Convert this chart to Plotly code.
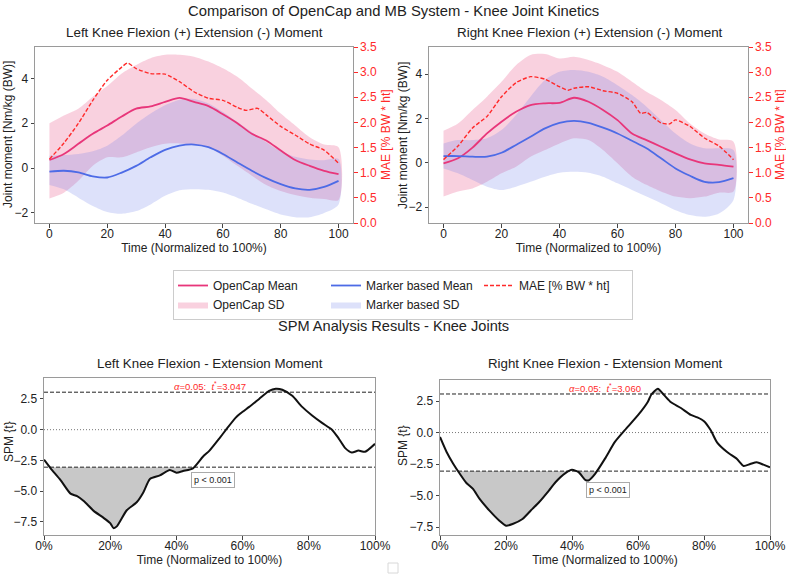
import plotly.graph_objects as go

W, H = 786, 576

# ---------------- data ----------------
x_pct = [0, 5, 10, 15, 20, 25, 30, 35, 40, 45, 50, 55, 60, 65, 70, 75, 80, 85, 90, 95, 100]

# Left knee
L_oc_mean = [0.36, 0.63, 1.08, 1.53, 1.90, 2.30, 2.65, 2.75, 2.95, 3.13, 2.95, 2.76, 2.40, 2.00, 1.53, 1.23, 0.78, 0.36, 0.10, -0.12, -0.27]
L_oc_up = [2.0, 2.35, 2.65, 3.18, 3.66, 4.22, 4.6, 4.9, 5.05, 5.05, 4.97, 4.75, 4.45, 4.07, 3.55, 3.03, 2.43, 1.9, 1.38, 1.05, 0.93]
L_oc_lo = [-1.36, -1.1, -0.57, 0.1, 0.48, 0.48, 0.7, 0.93, 1.08, 1.1, 1.05, 0.93, 0.55, 0.1, -0.34, -0.75, -1.02, -1.2, -1.32, -1.38, -1.42]
L_mb_mean = [-0.16, -0.12, -0.19, -0.37, -0.42, -0.2, 0.1, 0.48, 0.81, 1.0, 1.05, 0.93, 0.63, 0.25, -0.12, -0.45, -0.72, -0.91, -0.97, -0.84, -0.57]
L_mb_up = [0.55, 0.58, 0.63, 0.75, 1.0, 1.45, 1.98, 2.43, 2.8, 3.05, 3.08, 2.88, 2.5, 2.05, 1.6, 1.15, 0.75, 0.5, 0.38, 0.35, 0.4]
L_mb_lo = [-0.76, -0.95, -1.32, -1.69, -1.96, -2.04, -1.92, -1.62, -1.24, -0.99, -0.94, -0.97, -1.09, -1.32, -1.59, -1.84, -2.07, -2.19, -2.19, -2.0, -1.62]
L_mae_x = [0, 5, 10, 15, 20, 25, 27, 30, 35, 40, 45, 50, 55, 60, 65, 68, 72, 75, 80, 85, 90, 95, 100]
L_mae = [1.27, 1.59, 1.98, 2.44, 2.84, 3.1, 3.18, 3.07, 2.97, 2.96, 2.81, 2.61, 2.48, 2.44, 2.3, 2.24, 2.28, 2.15, 1.92, 1.75, 1.57, 1.45, 1.19]

# Right knee
R_oc_mean = [-0.03, 0.2, 0.68, 1.32, 1.85, 2.3, 2.6, 2.68, 2.7, 2.93, 2.75, 2.38, 1.92, 1.32, 1.02, 0.72, 0.42, 0.15, -0.03, -0.1, -0.18]
R_oc_up = [1.44, 1.77, 2.38, 2.98, 3.65, 4.4, 4.86, 4.9, 4.7, 4.78, 4.63, 4.4, 4.1, 3.65, 3.2, 2.83, 2.38, 1.77, 1.32, 1.05, 0.95]
R_oc_lo = [-1.53, -1.3, -1.16, -0.86, -0.48, -0.18, 0.27, 0.57, 0.87, 1.1, 1.02, 0.57, -0.03, -0.63, -1.0, -1.3, -1.53, -1.6, -1.53, -1.35, -1.3]
R_mb_mean = [0.3, 0.3, 0.27, 0.27, 0.45, 0.8, 1.17, 1.55, 1.8, 1.89, 1.8, 1.58, 1.32, 0.99, 0.65, 0.2, -0.26, -0.59, -0.86, -0.88, -0.7]
R_mb_up = [0.87, 1.02, 1.02, 1.1, 1.47, 2.15, 2.98, 3.73, 4.1, 4.18, 4.1, 3.88, 3.5, 3.05, 2.53, 1.92, 1.32, 0.87, 0.65, 0.65, 0.57]
R_mb_lo = [-0.26, -0.48, -0.78, -1.08, -1.23, -1.08, -0.86, -0.63, -0.45, -0.41, -0.45, -0.63, -0.93, -1.23, -1.53, -1.83, -2.14, -2.36, -2.44, -2.29, -1.68]
R_mae_x = [0, 5, 10, 15, 20, 25, 30, 35, 40, 43, 45, 50, 55, 60, 65, 68, 70, 75, 78, 80, 85, 90, 95, 100]
R_mae = [1.26, 1.53, 1.89, 2.12, 2.51, 2.79, 2.91, 2.86, 2.71, 2.64, 2.68, 2.71, 2.63, 2.58, 2.41, 2.18, 2.2, 1.99, 1.97, 2.05, 1.92, 1.69, 1.53, 1.26]

# SPM {t}
spm_L_x = [0, 2, 5, 8, 10, 12, 15, 18, 20, 21, 22, 25, 28, 30, 32, 35, 38, 40, 42, 45, 48, 50, 53, 55, 58, 60, 62, 65, 68, 70, 72, 75, 78, 81, 84, 87, 89, 91, 93, 95, 97, 100]
spm_L_t = [-2.44, -3.14, -4.1, -5.2, -5.4, -5.8, -6.6, -7.17, -7.6, -8.0, -7.86, -6.55, -5.9, -5.1, -4.0, -3.72, -3.28, -3.5, -3.36, -3.14, -2.2, -1.7, -0.7, 0.0, 1.0, 1.45, 1.85, 2.5, 3.15, 3.33, 3.25, 2.75, 1.85, 1.15, 0.55, 0.0, -0.7, -1.5, -1.85, -1.7, -1.8, -1.15]
spm_L_thr = 3.047
spm_R_x = [0, 2, 4, 6, 8, 10, 12, 15, 18, 20, 22, 25, 28, 30, 33, 35, 38, 40, 42, 44, 45, 47, 50, 53, 56, 60, 63, 64, 66, 68, 70, 73, 76, 78, 80, 82, 84, 87, 90, 92, 94, 96, 98, 100]
spm_R_t = [-0.35, -1.54, -2.47, -3.27, -4.0, -4.47, -5.27, -6.2, -7.0, -7.39, -7.26, -6.86, -6.06, -5.53, -4.6, -3.94, -3.22, -2.95, -3.14, -3.75, -3.8, -3.27, -2.07, -0.74, 0.19, 1.38, 2.45, 3.0, 3.48, 2.95, 2.4, 1.95, 1.4, 1.2, 0.9, 0.2, -0.8, -1.55, -2.1, -2.65, -2.5, -2.35, -2.55, -2.75]
spm_R_thr = 3.060

pct_ticks = [0, 20, 40, 60, 80, 100]
pct_labels = ["0%", "20%", "40%", "60%", "80%", "100%"]
legend_names = ["OpenCap Mean", "OpenCap SD", "Marker based Mean", "Marker based SD", "MAE [% BW * ht]"]

# ---------------- styles ----------------
FONT = "Liberation Sans, Arial, sans-serif"
PINK = "#e8367a"
BLUE = "#4d6be6"
PINK_FILL = "rgba(235,90,140,0.28)"
BLUE_FILL = "rgba(100,120,230,0.22)"
RED = "#ff2a2a"
FRAME = "#9a9a9a"


def px(x):
    return x / W


def py(y):
    return 1 - y / H


fig = go.Figure()


def band(xs, up, lo, fill, name, group, rank, show, xa, ya):
    fig.add_trace(go.Scatter(
        x=list(xs) + list(xs)[::-1], y=list(up) + list(lo)[::-1],
        fill="toself", fillcolor=fill, line=dict(width=0, shape="spline", smoothing=0.8),
        mode="lines", name=name, legendgroup=group, legendrank=rank, showlegend=show,
        hoverinfo="skip", xaxis=xa, yaxis=ya))


def mean_line(xs, ys, color, name, group, rank, show, xa, ya):
    fig.add_trace(go.Scatter(
        x=xs, y=ys, mode="lines", line=dict(color=color, width=1.8, shape="spline", smoothing=0.8),
        name=name, legendgroup=group, legendrank=rank, showlegend=show, xaxis=xa, yaxis=ya))


def mae_line(xs, ys, show, xa, ya):
    fig.add_trace(go.Scatter(
        x=xs, y=ys, mode="lines", line=dict(color=RED, width=1.4, dash="4px,2px", shape="spline", smoothing=0.6),
        name=legend_names[4], legendgroup="c", legendrank=5, showlegend=show, xaxis=xa, yaxis=ya))


for (oc_m, oc_u, oc_l, mb_m, mb_u, mb_l, mx, mv, xa, ya, ya2, show) in [
    (L_oc_mean, L_oc_up, L_oc_lo, L_mb_mean, L_mb_up, L_mb_lo, L_mae_x, L_mae, "x", "y", "y2", True),
    (R_oc_mean, R_oc_up, R_oc_lo, R_mb_mean, R_mb_up, R_mb_lo, R_mae_x, R_mae, "x2", "y3", "y4", False),
]:
    band(x_pct, oc_u, oc_l, PINK_FILL, legend_names[1], "a", 2, show, xa, ya)
    band(x_pct, mb_u, mb_l, BLUE_FILL, legend_names[3], "b", 4, show, xa, ya)
    mean_line(x_pct, oc_m, PINK, legend_names[0], "a", 1, show, xa, ya)
    mean_line(x_pct, mb_m, BLUE, legend_names[2], "b", 3, show, xa, ya)
    mae_line(mx, mv, show, xa, ya2)


def clusters(xs, ts, thr, sign):
    """polygons between curve and threshold where sign*t > thr"""
    px_, py_ = [], []
    n = len(xs)
    cur = None
    for i in range(n):
        inside = sign * ts[i] > thr
        if inside and cur is None:
            if i > 0:
                t0, t1 = ts[i - 1], ts[i]
                f = (sign * thr - t0) / (t1 - t0)
                cur = [(xs[i - 1] + f * (xs[i] - xs[i - 1]), sign * thr)]
            else:
                cur = [(xs[i], sign * thr)]
        if inside:
            cur.append((xs[i], ts[i]))
        if cur is not None and (not inside or i == n - 1):
            if not inside:
                t0, t1 = ts[i - 1], ts[i]
                f = (sign * thr - t0) / (t1 - t0)
                xe = xs[i - 1] + f * (xs[i] - xs[i - 1])
            else:
                xe = xs[i]
            cur.append((xe, sign * thr))
            cur.append((cur[0][0], sign * thr))
            px_ += [p[0] for p in cur] + [None]
            py_ += [p[1] for p in cur] + [None]
            cur = None
    return px_, py_


for xs, ts, thr, xa, ya in [(spm_L_x, spm_L_t, spm_L_thr, "x3", "y5"), (spm_R_x, spm_R_t, spm_R_thr, "x4", "y6")]:
    for sign in (-1, 1):
        cx, cy = clusters(xs, ts, thr, sign)
        fig.add_trace(go.Scatter(x=cx, y=cy, fill="toself", fillcolor="#c8c8c8", mode="lines",
                                 line=dict(width=0), showlegend=False, hoverinfo="skip", xaxis=xa, yaxis=ya))
    for yv, dash, col in [(thr, "4px,2px", "#222"), (-thr, "4px,2px", "#222"), (0, "1px,2px", "#777")]:
        fig.add_trace(go.Scatter(x=[0, 100], y=[yv, yv], mode="lines", line=dict(color=col, width=1, dash=dash),
                                 showlegend=False, hoverinfo="skip", xaxis=xa, yaxis=ya))
    fig.add_trace(go.Scatter(x=xs, y=ts, mode="lines", line=dict(color="#111", width=2, shape="spline", smoothing=0.6),
                             showlegend=False, xaxis=xa, yaxis=ya))

# ---------------- axes ----------------
tickfont = dict(family=FONT, size=12, color="#222")
titlefont = dict(family=FONT, size=12, color="#222")
common = dict(showline=True, linecolor=FRAME, linewidth=1, mirror=True, ticks="outside", ticklen=3.5,
              tickcolor="#444", showgrid=False, zeroline=False, automargin=False, tickfont=tickfont)
xcommon = dict(ticklabelstandoff=-4, **common)

top_y = [py(223), py(47)]
bot_y_L = [py(535), py(378)]
bot_y_R = [py(535), py(380)]

right_axis = dict(side="right", range=[0, 3.5], dtick=0.5, tickformat=".1f",
                  showgrid=False, zeroline=False, automargin=False, ticks="outside", ticklen=3.5, tickcolor=RED,
                  tickfont=dict(family=FONT, size=12, color=RED))

fig.update_layout(
    xaxis=dict(domain=[px(35), px(353)], anchor="y", range=[-5, 105], tickvals=pct_ticks,
               title=dict(text="Time (Normalized to 100%)", font=titlefont, standoff=0), **xcommon),
    yaxis=dict(domain=top_y, anchor="x", range=[-2.45, 5.4], tickvals=[-2, 0, 2, 4], **common),
    yaxis2=dict(overlaying="y", anchor="x", **right_axis),
    xaxis2=dict(domain=[px(429), px(748)], anchor="y3", range=[-5, 105], tickvals=pct_ticks,
                title=dict(text="Time (Normalized to 100%)", font=titlefont, standoff=0), **xcommon),
    yaxis3=dict(domain=top_y, anchor="x2", range=[-2.72, 5.22], tickvals=[-2, 0, 2, 4], **common),
    yaxis4=dict(overlaying="y3", anchor="x2", **right_axis),
    xaxis3=dict(domain=[px(44), px(375)], anchor="y5", range=[0, 100], tickvals=pct_ticks, ticktext=pct_labels,
                title=dict(text="Time (Normalized to 100%)", font=titlefont, standoff=0), **xcommon),
    yaxis5=dict(domain=bot_y_L, anchor="x3", range=[-8.56, 4.2], tickvals=[-7.5, -5, -2.5, 0, 2.5],
                tickformat=".1f", **common),
    xaxis4=dict(domain=[px(440), px(770)], anchor="y6", range=[0, 100], tickvals=pct_ticks, ticktext=pct_labels,
                title=dict(text="Time (Normalized to 100%)", font=titlefont, standoff=0), **xcommon),
    yaxis6=dict(domain=bot_y_R, anchor="x4", range=[-8.13, 4.17], tickvals=[-7.5, -5, -2.5, 0, 2.5],
                tickformat=".1f", **common),
)

# ---------------- titles & annotations ----------------
ann = []


def txt(x, y, s, size, color="#222", angle=0):
    ann.append(dict(x=px(x), y=py(y), xref="paper", yref="paper", text=s, showarrow=False, textangle=angle,
                    font=dict(family=FONT, size=size, color=color), xanchor="center", yanchor="middle"))


txt(393, 11, "Comparison of OpenCap and MB System - Knee Joint Kinetics", 14.8)
txt(194, 32, "Left Knee Flexion (+) Extension (-) Moment", 13.4)
txt(590, 32, "Right Knee Flexion (+) Extension (-) Moment", 13.4)
txt(393, 326, "SPM Analysis Results - Knee Joints", 14.6)
txt(210, 363, "Left Knee Flexion - Extension Moment", 13.3)
txt(605, 363, "Right Knee Flexion - Extension Moment", 13.3)

# y-axis titles
txt(8, 135, "Joint moment [Nm/kg (BW)]", 12, angle=-90)
txt(403, 135, "Joint moment [Nm/kg (BW)]", 12, angle=-90)
txt(386, 135, "MAE [% BW * ht]", 12, color=RED, angle=-90)
txt(780, 135, "MAE [% BW * ht]", 12, color=RED, angle=-90)
txt(9, 442, "SPM {t}", 12, angle=-90)
txt(403, 445, "SPM {t}", 12, angle=-90)

for thr, xa, ya, px_p, py_p in [(spm_L_thr, "x3", "y5", 51, -4.1), (spm_R_thr, "x4", "y6", 51, -4.55)]:
    ann.append(dict(x=50, y=thr, xref=xa, yref=ya, yanchor="bottom", yshift=-2, showarrow=False,
                    text="<i>α</i>=0.05:  <i>t</i><sup>*</sup>=%.3f" % thr,
                    font=dict(family=FONT, size=9.5, color=RED)))
    ann.append(dict(x=px_p, y=py_p, xref=xa, yref=ya, showarrow=False, text="p < 0.001",
                    font=dict(family=FONT, size=9, color="#222"), bgcolor="white",
                    bordercolor="#aaa", borderwidth=1, borderpad=2))

fig.update_layout(
    annotations=ann,
    shapes=[dict(type="rect", xref="paper", yref="paper", x0=px(388), x1=px(398), y0=py(573), y1=py(563),
                 line=dict(color="#d8d8d8", width=1))],
    width=W, height=H, margin=dict(l=0, r=0, t=0, b=0),
    paper_bgcolor="white", plot_bgcolor="white",
    font=dict(family=FONT, size=12, color="#222"),
    showlegend=True,
    legend=dict(orientation="h", x=px(173), y=py(270), xanchor="left", yanchor="top",
                traceorder="grouped", bordercolor="#cccccc", borderwidth=1,
                entrywidth=108, entrywidthmode="pixels",
                font=dict(family=FONT, size=12, color="#222"), bgcolor="white", itemwidth=30),
)

fig.write_html("out.html")
